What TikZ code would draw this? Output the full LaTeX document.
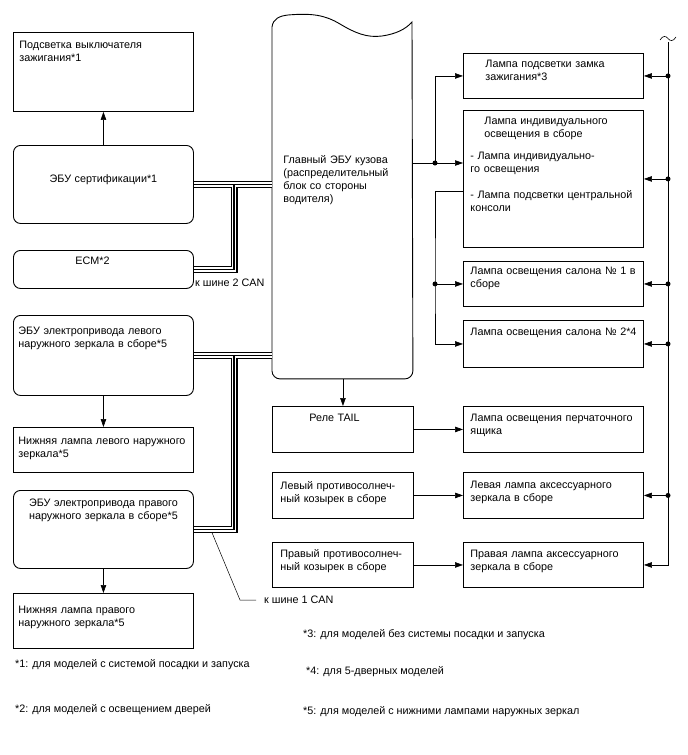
\documentclass[tikz,border=0pt]{standalone}
\usepackage{fontspec}
\setmainfont{Liberation Sans}
\usetikzlibrary{arrows.meta}

\begin{document}
\begin{tikzpicture}[
    x=1pt, y=-1pt,
    every node/.style={font=\fontsize{10.8}{13}\selectfont},
    box/.style={draw, line width=0.9pt, inner sep=0pt, anchor=north west, align=left},
    ecu/.style={box, rounded corners=7pt},
    wide/.style={minimum width=180pt},
    mid/.style={minimum width=141pt},
    tall/.style 2 args={execute at begin node={\vbox to #1\bgroup\vskip#2\relax},
                        execute at end node={\vfil\egroup}},
    note/.style={inner sep=0pt, anchor=west},
    arr/.style={-{Triangle[length=8pt, width=5.5pt]}, line width=0.6pt},
    can/.style={line width=1.1pt, preaction={draw, line width=7pt},
                preaction={draw, white, line width=4.4pt}}
]
    \useasboundingbox (0,0) rectangle (688,755);

    % left column
    \node[box, wide, text width=168pt, tall={79pt}{9pt}] (ign) at (13,32) {Подсветка выключателя\\зажигания*1};
    \node[ecu, wide, text width=168pt, align=center, tall={78pt}{29pt}] (cert) at (13,145) {ЭБУ сертификации*1};
    \node[ecu, wide, text width=56pt, tall={38pt}{7pt}] (ecm) at (13,250) {ECM*2};
    \node[ecu, wide, text width=170pt, tall={80pt}{12pt}] (lmir) at (13,315) {ЭБУ электропривода левого\\наружного зеркала в сборе*5};
    \node[box, wide, text width=170pt, tall={45pt}{10pt}] (llamp) at (13,427) {Нижняя лампа левого наружного\\зеркала*5};
    \node[ecu, wide, text width=168pt, align=center, tall={78pt}{9pt}] (rmir) at (13,490) {ЭБУ электропривода правого\\наружного зеркала в сборе*5};
    \node[box, wide, text width=170pt, tall={55pt}{13pt}] (rlamp) at (13,593) {Нижняя лампа правого\\наружного зеркала*5};

    % body ECU and middle column
    \node[box, draw=none, minimum width=140pt, text width=118pt, tall={354pt}{131pt}] (bcm) at (272,24) {Главный ЭБУ кузова\\(распределительный\\блок со стороны\\водителя)};
    \node[box, mid, text width=67pt, tall={46pt}{8pt}] (tail) at (272,406) {Реле TAIL};
    \node[box, mid, text width=125pt, tall={46pt}{9pt}] (lvisor) at (272,472) {Левый противосолнеч-\\ный козырек в сборе};
    \node[box, mid, text width=125pt, tall={45pt}{7pt}] (rvisor) at (272,542) {Правый противосолнеч-\\ный козырек в сборе};

    % lamps
    \node[box, wide, text width=136pt, tall={45pt}{7pt}] (ignlamp) at (463,53) {Лампа подсветки замка\\зажигания*3};
    \node[box, wide, text width=166pt, tall={137pt}{7pt}] (indiv) at (463,110) {\hspace*{14pt}Лампа индивидуального\\\hspace*{14pt}освещения в сборе\\[9pt]- Лампа индивидуально-\\го освещения\\[13pt]- Лампа подсветки центральной\\консоли};
    \node[box, wide, text width=166pt, tall={45pt}{6pt}] (cab1) at (463,261) {Лампа освещения салона № 1 в\\сборе};
    \node[box, wide, text width=166pt, tall={47pt}{8pt}] (cab2) at (463,320) {\mbox{Лампа освещения салона № 2*4}};
    \node[box, wide, text width=166pt, tall={46pt}{8pt}] (glove) at (463,406) {Лампа освещения перчаточного\\ящика};
    \node[box, wide, text width=166pt, tall={46pt}{9pt}] (lacc) at (463,472) {Левая лампа аксессуарного\\зеркала в сборе};
    \node[box, wide, text width=166pt, tall={45pt}{8pt}] (racc) at (463,542) {Правая лампа аксессуарного\\зеркала в сборе};

    % bus labels and notes
    \node[note] (can2) at (195,283) {к шине 2 CAN};
    \node[note] (can1) at (264,600) {к шине 1 CAN};
    \node[note] (fn1) at (15,665) {*1: для моделей с системой посадки и запуска};
    \node[note] (fn2) at (15,710) {*2: для моделей с освещением дверей};
    \node[note] (fn3) at (303,635) {*3: для моделей без системы посадки и запуска};
    \node[note] (fn4) at (306,672) {*4: для 5-дверных моделей};
    \node[note] (fn5) at (303,712) {*5: для моделей с нижними лампами наружных зеркал};

    \coordinate (s1) at (435,163);
    \coordinate (s2) at (cab1.west -| s1);
    \coordinate (rail) at (668,42);
    \coordinate (j2) at (234,184);
    \coordinate (j1) at (234,355);
    \coordinate (bend) at (240,600);

    % body ECU outline
    \draw[line width=0.9pt] (272,27) .. controls (273,19) and (279,16) .. (288,15)
        .. controls (312,13) and (325,15) .. (340,24)
        .. controls (355,33) and (367,38) .. (382,36)
        .. controls (396,34) and (406,29) .. (412,22)
        [rounded corners=8pt] -- (bcm.south east) -- (bcm.south west) -- (272,200) [sharp corners] -- cycle;

    \draw[arr] (cert) -- (ign);
    \draw[arr] (lmir) -- (llamp);
    \draw[arr] (rmir) -- (rlamp);
    \draw[arr] (tail.north |- bcm.south) -- (tail);
    \draw[arr] (tail) -- (glove);
    \draw[arr] (lvisor) -- (lacc);
    \draw[arr] (rvisor) -- (racc);

    \draw[arr] (s1 -| bcm.east) -- (s1) |- (ignlamp.west);
    \draw[arr] (s1) -- (s1 -| indiv.west);
    \draw[arr] ([yshift=-12.5pt]indiv.west) -| (s2) |- (cab2.west);
    \draw[arr] (s2) -- (cab1.west);
    \fill (s1) circle (2.5pt) (s2) circle (2.5pt);

    % supply rail
    \draw[line width=0.6pt] (660,40) .. controls (663,35) and (666,36) .. (668,38.5) .. controls (670,41) and (673,42) .. (676,37);
    \draw[arr] (rail) |- (racc.east);
    \draw[arr] (ignlamp.east -| rail) -- (ignlamp.east);
    \draw[arr] (indiv.east -| rail) -- (indiv.east);
    \draw[arr] (cab1.east -| rail) -- (cab1.east);
    \draw[arr] (cab2.east -| rail) -- (cab2.east);
    \draw[arr] (lacc.east -| rail) -- (lacc.east);
    \fill (ignlamp.east -| rail) circle (2.5pt) (indiv.east -| rail) circle (2.5pt)
          (cab1.east -| rail) circle (2.5pt) (cab2.east -| rail) circle (2.5pt)
          (lacc.east -| rail) circle (2.5pt);

    % CAN lines
    \draw[can] (cert.east) -- (cert.east -| bcm.west) (j2) |- (ecm.east);
    \draw[can] (lmir.east) -- (lmir.east -| bcm.west) (j1) |- (rmir.east);
    \draw[line width=0.5pt] ([xshift=18pt, yshift=-3pt]rmir.east) -- (bend) -- ([xshift=-8pt]can1.west);
\end{tikzpicture}
\end{document}
